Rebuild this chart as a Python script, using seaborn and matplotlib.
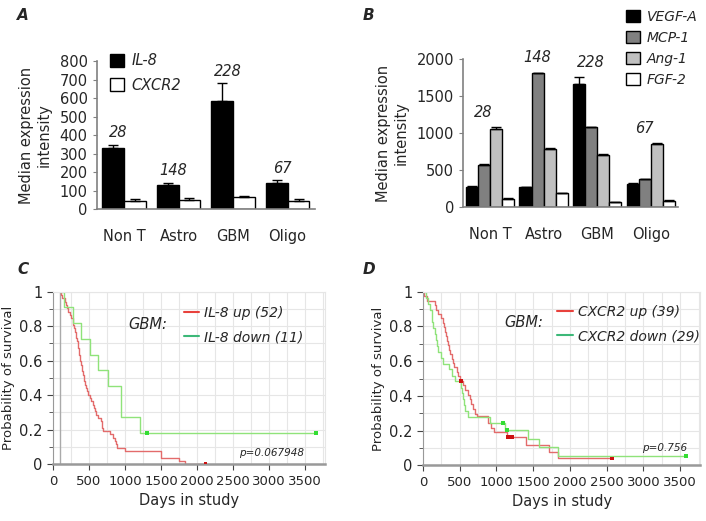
import numpy as np
import pandas as pd
import matplotlib
matplotlib.use("Agg")
import matplotlib.pyplot as plt
from matplotlib.lines import Line2D
from matplotlib.patches import Patch
from matplotlib.ticker import MultipleLocator, FuncFormatter
import seaborn as sns

sns.set_style("ticks")
plt.rcParams['font.family'] = ['DejaVu Sans']

# ---- data: panel A ----
groups = ["Non T", "Astro", "GBM", "Oligo"]
n_patients = ["28", "148", "228", "67"]
il8 = [330, 130, 585, 140]
il8_err = [18, 15, 95, 18]
cxcr2 = [48, 52, 65, 45]
cxcr2_err = [8, 10, 10, 12]

# ---- data: panel B ----
vegfa = [280, 270, 1670, 320]
vegfa_err = [15, 10, 90, 15]
mcp1 = [570, 1810, 1080, 380]
mcp1_err = [10, 10, 10, 10]
ang1 = [1060, 790, 710, 860]
ang1_err = [20, 15, 5, 8]
fgf2 = [115, 190, 70, 90]
fgf2_err = [10, 10, 5, 5]

# ---- data: panel C (Kaplan-Meier steps) ----
c_up_t = [100, 115, 130, 166, 185, 200, 215, 235, 255, 272, 285, 295, 305, 315,
          325, 335, 343, 350, 360, 368, 375, 382, 390, 397, 404, 411, 425, 438,
          450, 458, 466, 490, 510, 535, 550, 565, 582, 600, 620, 674, 680, 688,
          697, 790, 830, 858, 875, 891, 997, 1505, 1745, 1828, 2119]
c_up_s = [1.000, 0.981, 0.962, 0.942, 0.923, 0.904, 0.885, 0.865, 0.846, 0.827,
          0.808, 0.788, 0.769, 0.750, 0.731, 0.712, 0.692, 0.673, 0.654, 0.635,
          0.615, 0.596, 0.577, 0.558, 0.538, 0.519, 0.500, 0.481, 0.462, 0.442,
          0.423, 0.404, 0.385, 0.365, 0.346, 0.327, 0.308, 0.288, 0.269, 0.250,
          0.231, 0.212, 0.192, 0.173, 0.154, 0.135, 0.115, 0.096, 0.077, 0.038,
          0.019, 0.000, 0.000]
c_up_cens_t = [2119]
c_up_cens_s = [0.0]
c_down_t = [100, 150, 272, 383, 512, 628, 766, 951, 1214, 3650]
c_down_s = [1.000, 0.909, 0.818, 0.727, 0.636, 0.545, 0.455, 0.273, 0.182, 0.182]
c_down_cens_t = [1306, 3650]
c_down_cens_s = [0.182, 0.182]

# ---- data: panel D ----
d_up_t = [0, 20, 50, 163, 175, 200, 240, 277, 290, 300, 310, 322, 335, 350, 370,
          391, 410, 430, 459, 480, 504, 545, 572, 610, 640, 660, 686, 710, 731,
          890, 930, 971, 1140, 1403, 1721, 1843, 2579]
d_up_s = [1.000, 0.974, 0.949, 0.923, 0.897, 0.872, 0.846, 0.821, 0.795, 0.769,
          0.744, 0.718, 0.692, 0.667, 0.641, 0.615, 0.590, 0.564, 0.538, 0.513,
          0.487, 0.460, 0.433, 0.406, 0.379, 0.352, 0.325, 0.298, 0.284, 0.243,
          0.217, 0.190, 0.163, 0.119, 0.077, 0.039, 0.039]
d_up_cens_t = [513, 1163, 1213, 2579]
d_up_cens_s = [0.487, 0.163, 0.163, 0.039]
d_down_t = [0, 40, 73, 95, 120, 130, 141, 160, 177, 190, 209, 240, 277, 359, 391,
            436, 515, 527, 545, 560, 572, 617, 913, 1117, 1435, 1585, 1843, 3583]
d_down_s = [1.000, 0.966, 0.931, 0.897, 0.862, 0.828, 0.793, 0.759, 0.724, 0.690,
            0.655, 0.621, 0.586, 0.552, 0.517, 0.483, 0.448, 0.414, 0.379, 0.345,
            0.310, 0.276, 0.241, 0.201, 0.154, 0.106, 0.052, 0.052]
d_down_cens_t = [1086, 1150, 3583]
d_down_cens_s = [0.241, 0.201, 0.052]

fig = plt.figure(figsize=(7.06, 5.21), dpi=100)
axA = fig.add_axes([0.137, 0.598, 0.309, 0.285])
axB = fig.add_axes([0.656, 0.602, 0.304, 0.284])
axC = fig.add_axes([0.075, 0.109, 0.385, 0.331])
axD = fig.add_axes([0.599, 0.107, 0.393, 0.333])


def bar_panel(ax, series, errs, colors, width, ymax, step, label_off, label_dx):
    names = list(series.keys())
    df = pd.DataFrame({
        "group": groups * len(names),
        "gene": [n for n in names for _ in groups],
        "value": [v for n in names for v in series[n]],
    })
    sns.barplot(data=df, x="group", y="value", hue="gene", hue_order=names,
                palette=dict(zip(names, colors)), edgecolor="black", linewidth=1,
                errorbar=None, saturation=1, width=width, legend=False, ax=ax)
    tops = np.zeros(len(groups))
    for cont, n in zip(ax.containers, names):
        for i, (bar, e) in enumerate(zip(cont, errs[n])):
            x = bar.get_x() + bar.get_width() / 2
            h = bar.get_height()
            ax.errorbar(x, h, yerr=[[0], [e]], color="black", lw=1,
                        capsize=3.5, capthick=1)
            tops[i] = max(tops[i], h + e)
    for i, lab in enumerate(n_patients):
        ax.text(i + label_dx, tops[i] + label_off, lab, ha="center", va="center",
                style="italic", fontsize=10.5)
    ax.set_ylim(0, ymax)
    ax.set_xlim(-0.5, 3.5)
    ax.yaxis.set_major_locator(MultipleLocator(step))
    ax.set_xlabel("")
    ax.set_ylabel("Median expression\nintensity", fontsize=10.5, labelpad=6)
    sns.despine(ax=ax)
    for s in ["left", "bottom"]:
        ax.spines[s].set_color("#808080")
        ax.spines[s].set_linewidth(1.2)
    ax.tick_params(axis="x", length=0, pad=14, labelsize=10.5)
    ax.tick_params(axis="y", length=3, color="#808080", labelsize=10.5)
    handles = [Patch(facecolor=c, edgecolor="black", label=n)
               for n, c in zip(names, colors)]
    return handles


hA = bar_panel(axA, {"IL-8": il8, "CXCR2": cxcr2},
               {"IL-8": il8_err, "CXCR2": cxcr2_err},
               ["black", "white"], 0.8, 800, 100, 65, -0.1)
legA = axA.legend(handles=hA, loc="upper left", bbox_to_anchor=(0.0, 1.14),
                  frameon=False, handlelength=1.0, handleheight=1.0,
                  handletextpad=0.5, labelspacing=0.65, fontsize=10.5)
for t in legA.get_texts():
    t.set_style("italic")

hB = bar_panel(axB, {"VEGF-A": vegfa, "MCP-1": mcp1, "Ang-1": ang1, "FGF-2": fgf2},
               {"VEGF-A": vegfa_err, "MCP-1": mcp1_err, "Ang-1": ang1_err, "FGF-2": fgf2_err},
               ["black", "#808080", "#c0c0c0", "white"], 0.9, 2000, 500, 200, -0.12)
legB = axB.legend(handles=hB, loc="upper left", bbox_to_anchor=(0.7, 1.42),
                  frameon=False, handlelength=1.0, handleheight=1.0,
                  handletextpad=0.5, labelspacing=0.5, fontsize=10)
for t in legB.get_texts():
    t.set_style("italic")


def km_panel(ax, up, down, up_c, down_c, labels, pval, ptxt_xy, gbm_xy, leg_anchor):
    ax.grid(True, which="both", color="#e6e6e6", lw=0.8)
    ax.set_axisbelow(True)
    ax.xaxis.set_minor_locator(MultipleLocator(250))
    ax.yaxis.set_minor_locator(MultipleLocator(0.1))
    ax.xaxis.set_major_locator(MultipleLocator(500))
    ax.yaxis.set_major_locator(MultipleLocator(0.2))
    ax.yaxis.set_major_formatter(FuncFormatter(lambda v, p: f"{v:g}"))
    sns.lineplot(x=up[0], y=up[1], drawstyle="steps-post", estimator=None,
                 sort=False, color="#e36b6b", lw=1, ax=ax)
    sns.lineplot(x=down[0], y=down[1], drawstyle="steps-post", estimator=None,
                 sort=False, color="#8fe37a", lw=1, ax=ax)
    sns.scatterplot(x=up_c[0], y=up_c[1], marker="s", s=8, color="#cc1111",
                    edgecolor="none", ax=ax, zorder=5)
    sns.scatterplot(x=down_c[0], y=down_c[1], marker="s", s=8, color="#33dd33",
                    edgecolor="none", ax=ax, zorder=5)
    ax.set_xlim(0, 3775)
    ax.set_ylim(0, 1)
    ax.set_xlabel("Days in study", fontsize=10.5)
    ax.set_ylabel("Probability of survival", fontsize=9.5, labelpad=3)
    for s in ["top", "right"]:
        ax.spines[s].set_color("#e6e6e6")
    ax.spines["left"].set_color("#999999")
    ax.spines["bottom"].set_color("#999999")
    ax.spines["bottom"].set_linewidth(1.8)
    ax.tick_params(axis="x", which="major", length=4, color="#444444", labelsize=9.5)
    ax.tick_params(axis="x", which="minor", length=0)
    ax.tick_params(axis="y", which="major", length=4, color="#444444", labelsize=10.5)
    ax.tick_params(axis="y", which="minor", length=3, color="#444444")
    handles = [Line2D([], [], color="#e8413c", lw=1.5, label=labels[0]),
               Line2D([], [], color="#3cb878", lw=1.5, label=labels[1])]
    leg = ax.legend(handles=handles, loc="upper left", bbox_to_anchor=leg_anchor,
                    frameon=False, handlelength=1.1, handletextpad=0.4,
                    labelspacing=0.75, fontsize=10, borderpad=0)
    for t in leg.get_texts():
        t.set_style("italic")
    ax.text(gbm_xy[0], gbm_xy[1], "GBM:", transform=ax.transAxes, style="italic",
            fontsize=10.5, ha="center", va="center")
    ax.text(ptxt_xy[0], ptxt_xy[1], pval, transform=ax.transAxes, style="italic",
            fontsize=7.5, ha="center", va="center")


km_panel(axC, (c_up_t, c_up_s), (c_down_t, c_down_s),
         (c_up_cens_t, c_up_cens_s), (c_down_cens_t, c_down_cens_s),
         ["IL-8 up (52)", "IL-8 down (11)"], "p=0.067948",
         (0.805, 0.064), (0.35, 0.81), (0.455, 0.96))
axC.axvline(100, color="#aaaaaa", lw=1, zorder=1)

km_panel(axD, (d_up_t, d_up_s), (d_down_t, d_down_s),
         (d_up_cens_t, d_up_cens_s), (d_down_cens_t, d_down_cens_s),
         ["CXCR2 up (39)", "CXCR2 down (29)"], "p=0.756",
         (0.87, 0.098), (0.365, 0.825), (0.46, 0.965))

for lab, (x, y) in zip("ABCD", [(17, 15), (363, 15), (17, 270), (363, 270)]):
    fig.text(x / 706, 1 - y / 521, lab, fontsize=11, fontweight="bold",
             style="italic", ha="left", va="center")

fig.savefig("out.png", dpi=100)
